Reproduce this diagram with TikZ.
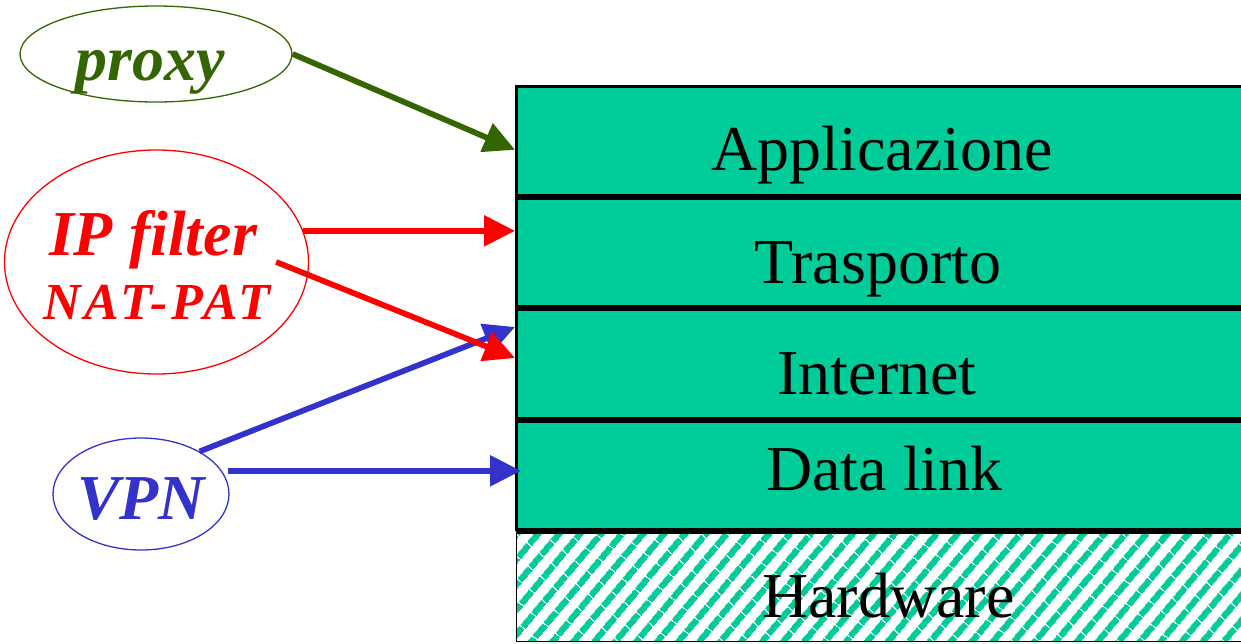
\documentclass[tikz,border=0pt]{standalone}
\usepackage{fontspec}
\setmainfont{Liberation Serif}
\usetikzlibrary{arrows.meta,shapes.geometric,patterns.meta}
\definecolor{layer}{HTML}{00CC99}
\definecolor{proxygreen}{HTML}{336600}
\definecolor{filterred}{HTML}{FF0000}
\definecolor{vpnblue}{HTML}{3333CC}
\begin{document}
\begin{tikzpicture}[x=1pt,y=-1pt,
  layerbox/.style={rectangle, draw=black, line width=3pt, fill=layer, inner sep=0pt,
    minimum width=733.5pt, minimum height=108.6pt, anchor=north west},
  layertext/.style={anchor=base, inner sep=0pt, font=\fontsize{64}{70}\selectfont},
  tag/.style={ellipse, inner sep=0pt, line width=1.3pt},
  tagtext/.style={anchor=base, inner sep=0pt, font=\bfseries\itshape\fontsize{64}{70}\selectfont},
  link/.style={line width=5.7pt, -{Triangle[length=31pt,width=30pt]}},
]
\useasboundingbox (0,0) rectangle (1241,643);
\clip (0,0) rectangle (1241,643);

% protocol stack
\node[layerbox] (app) at (515,85) {};
\node[layerbox] (tra) at (515,196.6) {};
\node[layerbox] (int) at (515,308.2) {};
\node[layerbox] (dl)  at (515,419.8) {};
\node[rectangle, draw=black, line width=1.5pt, outer sep=0pt, inner sep=0pt, anchor=north west,
      minimum width=734pt, minimum height=109.5pt,
      pattern={Lines[angle=50, distance=17pt, line width=7pt]}, pattern color=layer]
      (hw) at (516.3,532) {};
\draw[line width=3pt] (hw.north west) -- (hw.north east);

\node[layertext] (app-t) at (882,170) {Applicazione};
\node[layertext] (tra-t) at (878,283) {Trasporto};
\node[layertext] (int-t) at (877,394) {Internet};
\node[layertext] (dl-t)  at (884.5,490) {Data link};
\node[layertext] (hw-t)  at (888.5,617) {Hardware};

% security tools
\node[tag, draw=proxygreen, minimum width=272pt, minimum height=96pt] (proxy) at (156,54) {};
\node[tag, draw=filterred, minimum width=304pt, minimum height=224pt] (ipf) at (156.5,262) {};
\node[tag, draw=vpnblue, minimum width=176pt, minimum height=112pt] (vpn) at (141,494) {};

\node[tagtext, text=proxygreen] (proxy-t) at (150,80) {proxy};
\node[tagtext, text=filterred] (ipf-t1) at (153,255) {IP filter};
\node[tagtext, text=filterred, font=\bfseries\itshape\fontsize{52}{58}\selectfont\addfontfeatures{LetterSpace=7}]
      (ipf-t2) at (157,319) {NAT-PAT};
\node[tagtext, text=vpnblue] (vpn-t) at (141,519) {VPN};

% where each tool acts
\draw[link, proxygreen] (proxy.east) -- ([yshift=-9pt]app.west);
\draw[link, vpnblue] (vpn.36) -- ([yshift=37pt]int.west);
\draw[link, vpnblue] ([xshift=6pt]vpn.16) -- ([xshift=6pt]vpn.16 -| dl.west);
\draw[link, filterred] (ipf.12) -- (ipf.12 -| tra.west);
\draw[link, filterred] ([xshift=-33pt]ipf.east) -- ([yshift=6pt]int.west);
\end{tikzpicture}
\end{document}
